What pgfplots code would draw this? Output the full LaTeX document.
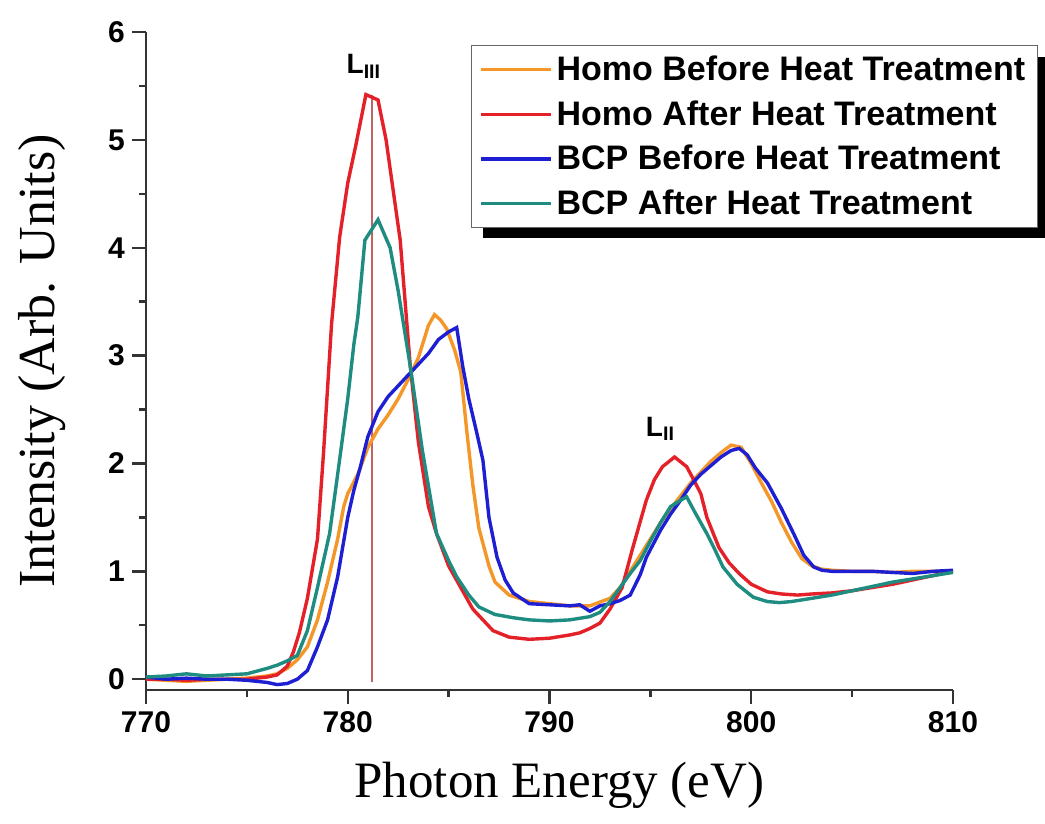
\documentclass[border=0pt]{standalone}
\usepackage{pgfplots}
\pgfplotsset{compat=1.18}
\usepackage{fontspec}
\setmainfont{Liberation Sans}
\newfontfamily\timesfont{Liberation Serif}
\definecolor{corange}{RGB}{244,150,40}
\definecolor{cred}{RGB}{228,32,40}
\definecolor{cblue}{RGB}{30,30,210}
\definecolor{cteal}{RGB}{30,140,128}
\definecolor{cvline}{RGB}{190,100,100}
\begin{document}
\begin{tikzpicture}
\begin{axis}[
  scale only axis,
  width=403.5pt, height=329pt,
  xmin=770, xmax=810, ymin=-0.1, ymax=6,
  axis lines=left,
  axis line style={-, line width=1.2pt, black!80},
  xtick={770,780,790,800,810},
  ytick={0,1,2,3,4,5,6},
  minor x tick num=1, minor y tick num=1,
  tick align=outside,
  major tick length=7pt, minor tick length=3.5pt,
  tick style={line width=1.2pt, black!80},
  /pgf/number format/assume math mode=true,
  /pgf/number format/1000 sep={},
  ticklabel style={font=\bfseries\fontsize{15}{15}\selectfont},
  xlabel={\timesfont\fontsize{25.5}{25.5}\selectfont Photon Energy (eV)},
  ylabel={\timesfont\fontsize{26}{26}\selectfont Intensity (Arb. Units)},
  xlabel shift=8pt,
  ylabel shift=14.5pt,
  xlabel style={xshift=5pt},
  legend cell align=left,
  legend style={at={(1.105,0.98)}, anchor=north east, name=leg,
    font=\bfseries\fontsize{17}{17}\selectfont,
    draw=black!60, line width=0.6pt, fill=white,
    row sep=4.5pt, inner xsep=4pt, inner ysep=3pt},
  legend image code/.code={\draw[#1] (0pt,0pt) -- (35pt,0pt);},
]
\addplot[cvline, line width=0.8pt, forget plot] coordinates {(781.2,-0.03) (781.2,5.42)};
\addplot[corange, line width=1.7pt] coordinates {
(770,0.0) (771,-0.01) (772,-0.02) (773,-0.01) (774,0.0) (775,0.01) (776,0.03) (776.5,0.05) (777,0.1) (777.5,0.18) (778,0.3) (778.5,0.55) (779,0.9) (779.5,1.3) (779.8,1.6) (780,1.72) (780.5,1.9) (781,2.15) (781.5,2.32) (782,2.45) (782.5,2.6) (783,2.78) (783.5,2.98) (784,3.28) (784.3,3.38) (784.6,3.33) (784.9,3.25) (785.3,3.05) (785.6,2.85) (785.9,2.3) (786.2,1.8) (786.5,1.4) (787,1.05) (787.3,0.9) (788,0.78) (789,0.72) (790,0.7) (791,0.68) (792,0.68) (793,0.75) (793.5,0.85) (794,1.0) (794.5,1.15) (795,1.3) (795.5,1.45) (796,1.58) (796.5,1.7) (797,1.82) (797.5,1.92) (798,2.02) (798.5,2.1) (799,2.17) (799.5,2.15) (800,2.0) (800.5,1.82) (801,1.65) (801.5,1.45) (802,1.27) (802.5,1.12) (803,1.05) (803.5,1.02) (804,1.01) (805,1.0) (806,1.0) (807,0.99) (808,1.0) (809,1.0) (810,1.0)
};
\addlegendentry{Homo Before Heat Treatment}
\addplot[cred, line width=1.7pt] coordinates {
(770,0.0) (771,0.0) (772,-0.01) (773,0.0) (774,0.0) (775,0.0) (776,0.02) (776.5,0.04) (777,0.12) (777.3,0.25) (777.6,0.43) (778,0.75) (778.5,1.3) (778.8,2.1) (779.2,3.3) (779.6,4.1) (780,4.6) (780.4,4.95) (780.9,5.42) (781.5,5.37) (781.9,5.0) (782.2,4.6) (782.6,4.07) (783.1,2.9) (783.5,2.2) (784,1.6) (784.4,1.35) (785,1.05) (785.6,0.85) (786.2,0.65) (787.2,0.45) (788,0.39) (789,0.37) (790,0.38) (791,0.41) (791.5,0.43) (792,0.47) (792.5,0.52) (793,0.65) (793.6,0.85) (794.1,1.2) (794.8,1.66) (795.2,1.85) (795.6,1.97) (796.2,2.06) (796.8,1.97) (797.2,1.83) (797.5,1.72) (797.8,1.5) (798.4,1.22) (798.9,1.08) (799.4,0.98) (800,0.88) (800.8,0.81) (801.5,0.79) (802.3,0.78) (803,0.79) (804,0.8) (805,0.82) (806,0.85) (807,0.88) (808,0.92) (809,0.96) (810,1.0)
};
\addlegendentry{Homo After Heat Treatment}
\addplot[cblue, line width=1.7pt] coordinates {
(770,0.02) (771,0.0) (772,0.01) (773,0.0) (774,0.0) (775,-0.01) (776,-0.03) (776.5,-0.05) (777,-0.04) (777.5,0.0) (778,0.08) (778.5,0.3) (779,0.55) (779.5,0.95) (780,1.5) (780.3,1.75) (780.6,1.95) (781,2.25) (781.5,2.48) (782,2.62) (782.5,2.72) (783,2.82) (783.5,2.92) (784,3.02) (784.5,3.15) (785,3.22) (785.4,3.26) (785.7,2.9) (786,2.6) (786.4,2.28) (786.7,2.03) (787,1.5) (787.4,1.13) (787.8,0.92) (788.2,0.8) (789,0.7) (790,0.69) (791,0.68) (791.5,0.69) (792,0.63) (792.5,0.68) (793,0.7) (793.5,0.73) (794,0.78) (794.5,0.97) (794.8,1.13) (795.5,1.38) (796,1.53) (796.5,1.66) (797,1.8) (797.5,1.9) (798,1.98) (798.5,2.06) (799,2.12) (799.4,2.14) (799.8,2.08) (800.2,1.96) (800.8,1.82) (801.5,1.58) (802.1,1.35) (802.6,1.15) (803.1,1.04) (803.5,1.01) (804,1.0) (805,1.0) (806,1.0) (807,0.99) (808,0.98) (809,1.0) (810,1.01)
};
\addlegendentry{BCP Before Heat Treatment}
\addplot[cteal, line width=1.7pt] coordinates {
(770,0.02) (771,0.03) (772,0.05) (773,0.03) (774,0.04) (775,0.05) (776,0.1) (776.5,0.13) (777,0.17) (777.5,0.22) (778,0.45) (778.5,0.85) (779.1,1.35) (779.5,1.9) (780,2.6) (780.3,3.1) (780.5,3.36) (780.85,4.07) (781.5,4.26) (782.1,4.0) (782.5,3.6) (783.1,2.9) (783.7,2.12) (784.4,1.35) (785,1.1) (785.4,0.95) (786,0.78) (786.5,0.67) (787.3,0.6) (788.2,0.57) (789,0.55) (790,0.54) (791,0.55) (792,0.58) (792.5,0.62) (793,0.72) (793.5,0.85) (794,0.98) (794.5,1.1) (795,1.28) (795.5,1.45) (796,1.6) (796.5,1.66) (796.8,1.69) (797.2,1.55) (797.8,1.35) (798.2,1.2) (798.6,1.04) (799.3,0.88) (800.1,0.76) (800.8,0.72) (801.4,0.71) (802,0.72) (803,0.75) (804,0.78) (805,0.82) (806,0.86) (807,0.9) (808,0.93) (809,0.96) (810,0.99)
};
\addlegendentry{BCP After Heat Treatment}
\node[font=\bfseries\fontsize{14}{14}\selectfont] at (axis cs:780.8,5.68) {L$_{\mathbf{III}}$};
\node[font=\bfseries\fontsize{14}{14}\selectfont] at (axis cs:795.5,2.32) {L$_{\mathbf{II}}$};
\end{axis}
\fill[black] ([xshift=6pt]leg.south west) rectangle ([xshift=4pt,yshift=-5pt]leg.south east);
\fill[black] ([yshift=-6pt]leg.north east) rectangle ([xshift=4pt]leg.south east);
\pgfresetboundingbox
\path (current axis.south west) ++(-73pt,345pt) rectangle ++(522.5pt,-412pt);
\end{tikzpicture}
\end{document}
